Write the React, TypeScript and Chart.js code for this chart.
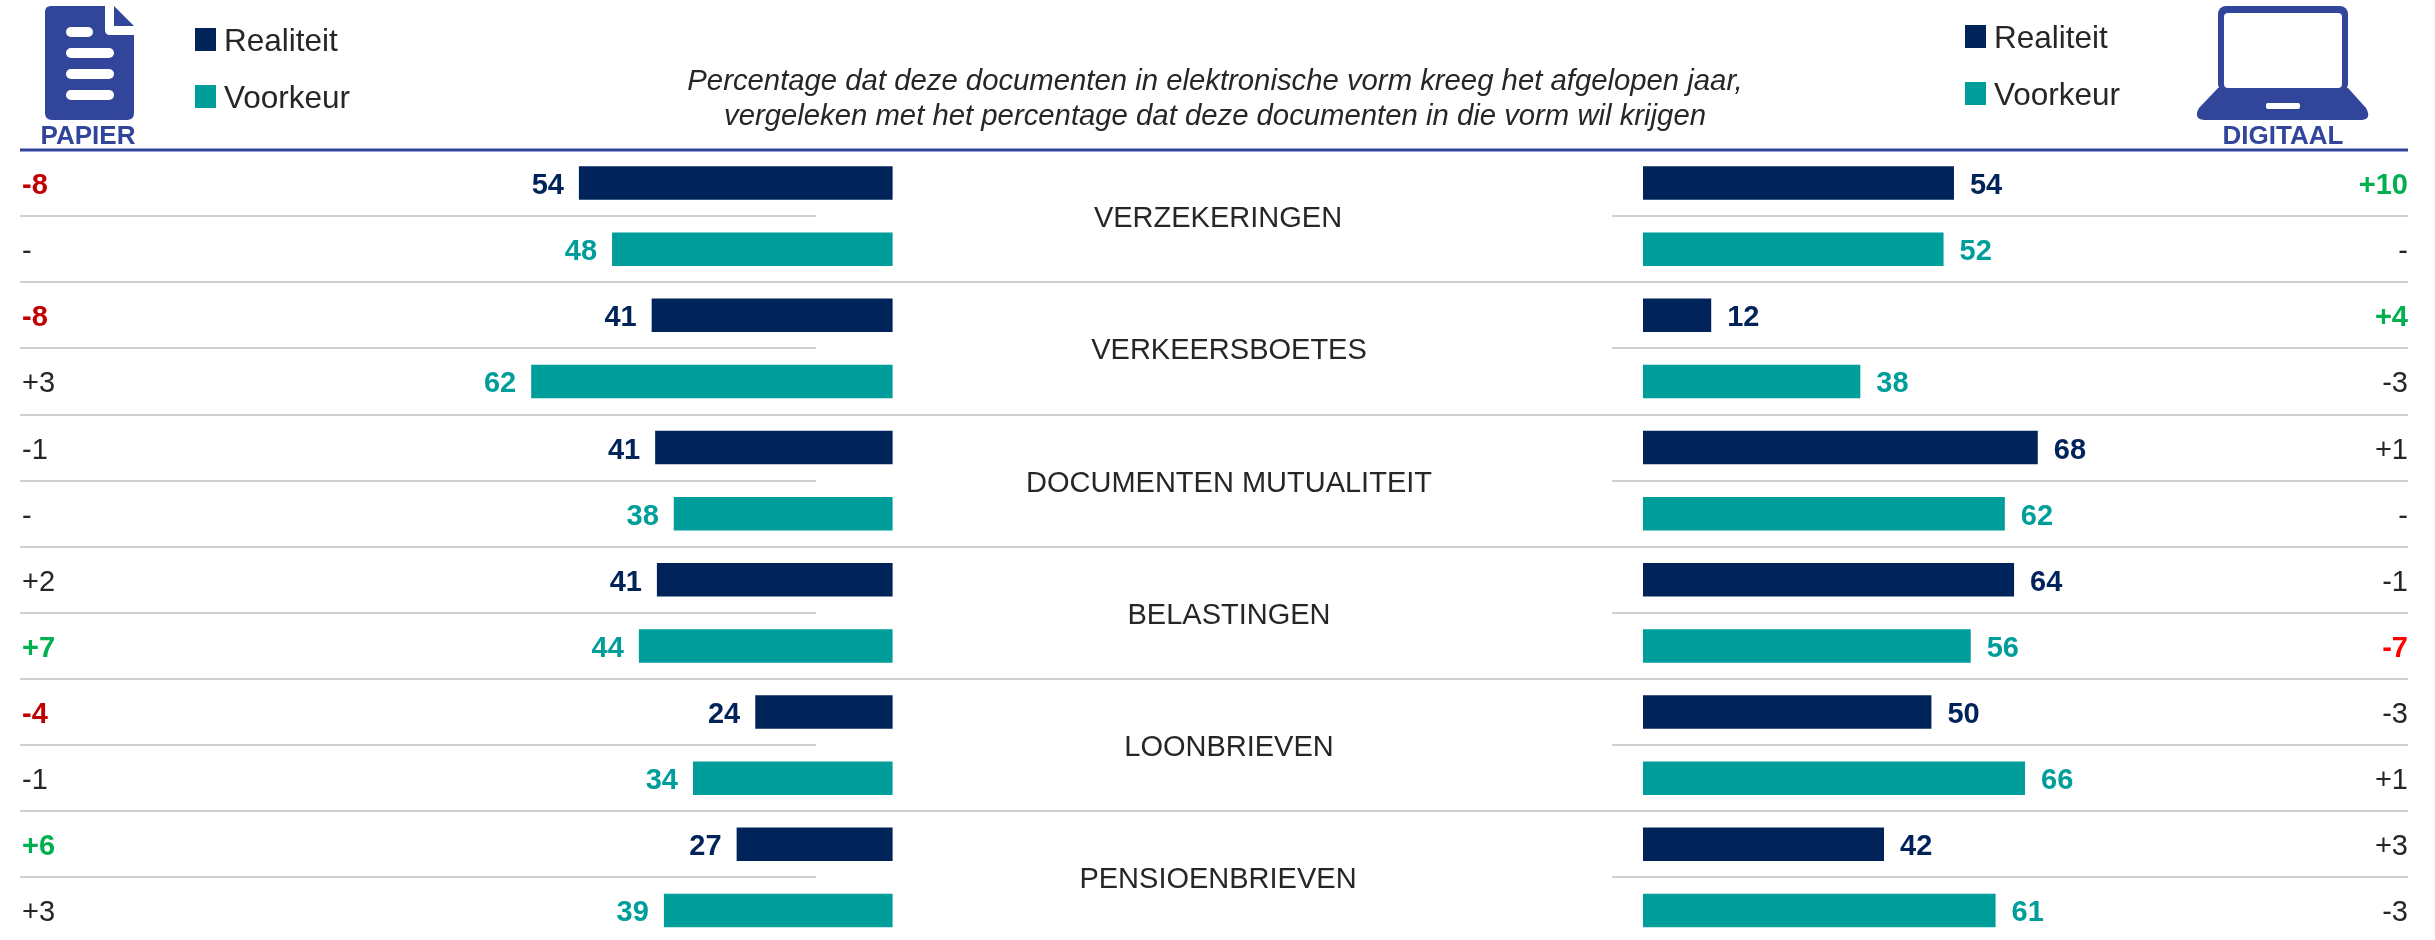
import React, { useEffect, useRef } from "react";
import { Chart, registerables } from "chart.js";

Chart.register(...registerables);

const categories = ["VERZEKERINGEN", "VERKEERSBOETES", "DOCUMENTEN MUTUALITEIT", "BELASTINGEN", "LOONBRIEVEN", "PENSIOENBRIEVEN"];
const seriesNames = ["Realiteit", "Voorkeur"];
const titleLines = [
  "Percentage dat deze documenten in elektronische vorm kreeg het afgelopen jaar,",
  "vergeleken met het percentage dat deze documenten in die vorm wil krijgen",
];

// bar lengths
const papierRealiteit = [53.9, 41.4, 40.8, 40.5, 23.6, 26.8];
const papierVoorkeur = [48.2, 62.1, 37.6, 43.6, 34.3, 39.3];
const digitaalRealiteit = [53.8, 11.8, 68.3, 64.2, 49.9, 41.7];
const digitaalVoorkeur = [52.0, 37.6, 62.6, 56.7, 66.1, 61.0];

// printed values
const papierRealiteitLabels = ["54", "41", "41", "41", "24", "27"];
const papierVoorkeurLabels = ["48", "62", "38", "44", "34", "39"];
const digitaalRealiteitLabels = ["54", "12", "68", "64", "50", "42"];
const digitaalVoorkeurLabels = ["52", "38", "62", "56", "66", "61"];

// printed differences, one per row
const papierDelta = ["-8", "-", "-8", "+3", "-1", "-", "+2", "+7", "-4", "-1", "+6", "+3"];
const digitaalDelta = ["+10", "-", "+4", "-3", "+1", "-", "-1", "-7", "-3", "+1", "+3", "-3"];
// n = neutral, u = green up, d = dark red down, r = bright red down
const papierDeltaTone = ["d", "n", "d", "n", "n", "n", "n", "u", "d", "n", "u", "n"];
const digitaalDeltaTone = ["u", "n", "u", "n", "n", "n", "n", "r", "n", "n", "n", "n"];

const NAVY = "#00235a";
const TEAL = "#009e9b";
const BLUE = "#31459b";
const INK = "#262626";
const FONT = '"Liberation Sans", Arial, sans-serif';
const TONE: Record<string, string> = { n: INK, u: "#00b050", d: "#c00000", r: "#ff0000" };

const onlyFirst = (a: number[]) => a.flatMap((v) => [v, null]);
const onlySecond = (a: number[]) => a.flatMap((v) => [null, v]);
const rowLabels = categories.flatMap((c) => seriesNames.map((s) => `${c} ${s}`));

function text(ctx: CanvasRenderingContext2D, s: string, x: number, y: number, font: string, color: string, align: CanvasTextAlign = "left") {
  ctx.font = font;
  ctx.fillStyle = color;
  ctx.textAlign = align;
  ctx.textBaseline = "alphabetic";
  ctx.fillText(s, x, y);
}

function rr(ctx: CanvasRenderingContext2D, x: number, y: number, w: number, h: number, r: number, color: string) {
  ctx.fillStyle = color;
  ctx.beginPath();
  ctx.roundRect(x, y, w, h, r);
  ctx.fill();
}

function drawDocIcon(ctx: CanvasRenderingContext2D) {
  ctx.fillStyle = BLUE;
  ctx.beginPath();
  ctx.moveTo(51, 6);
  ctx.lineTo(105, 6);
  ctx.lineTo(105, 30);
  ctx.quadraticCurveTo(105, 35, 110, 35);
  ctx.lineTo(134, 35);
  ctx.lineTo(134, 113);
  ctx.quadraticCurveTo(134, 120, 127, 120);
  ctx.lineTo(52, 120);
  ctx.quadraticCurveTo(45, 120, 45, 113);
  ctx.lineTo(45, 12);
  ctx.quadraticCurveTo(45, 6, 51, 6);
  ctx.fill();
  ctx.beginPath();
  ctx.moveTo(114, 6);
  ctx.lineTo(134, 26);
  ctx.lineTo(114, 26);
  ctx.closePath();
  ctx.fill();
  rr(ctx, 66, 27, 27, 10, 5, "#ffffff");
  rr(ctx, 66, 48, 48, 10, 5, "#ffffff");
  rr(ctx, 66, 69, 48, 10, 5, "#ffffff");
  rr(ctx, 66, 90, 48, 10, 5, "#ffffff");
}

function drawLaptopIcon(ctx: CanvasRenderingContext2D) {
  rr(ctx, 2218, 6, 130, 86, 8, BLUE);
  rr(ctx, 2224, 13, 118, 75, 4, "#ffffff");
  ctx.fillStyle = BLUE;
  ctx.beginPath();
  ctx.moveTo(2218, 88);
  ctx.lineTo(2348, 88);
  ctx.lineTo(2366, 108);
  ctx.quadraticCurveTo(2372, 119, 2362, 120);
  ctx.lineTo(2204, 120);
  ctx.quadraticCurveTo(2193, 119, 2199, 108);
  ctx.closePath();
  ctx.fill();
  rr(ctx, 2266, 103, 34, 6, 2, "#ffffff");
}

const dividers = {
  id: "dividers",
  beforeDatasetsDraw(chart: any) {
    const { ctx } = chart;
    const yScale = chart.scales.y;
    ctx.save();
    ctx.fillStyle = "#d0d0d0";
    for (let i = 1; i < rowLabels.length; i++) {
      const y = Math.round((yScale.getPixelForValue(i - 1) + yScale.getPixelForValue(i)) / 2);
      if (i % 2 === 0) {
        ctx.fillRect(20, y - 1, 2388, 2);
      } else {
        ctx.fillRect(20, y - 1, 796, 2);
        ctx.fillRect(1612, y - 1, 796, 2);
      }
    }
    ctx.fillStyle = BLUE;
    ctx.fillRect(20, 148.5, 2388, 3);
    ctx.restore();
  },
};

const annotations = {
  id: "annotations",
  afterDatasetsDraw(chart: any) {
    const { ctx } = chart;
    const yScale = chart.scales.y;
    ctx.save();
    drawDocIcon(ctx);
    drawLaptopIcon(ctx);
    text(ctx, "PAPIER", 88, 144, `bold 26px ${FONT}`, BLUE, "center");
    text(ctx, "DIGITAAL", 2283, 144, `bold 26px ${FONT}`, BLUE, "center");

    // legends
    const legendFont = `31.5px ${FONT}`;
    [[195, 224, 28], [1965, 1994, 25]].forEach(([sx, tx, top]) => {
      seriesNames.forEach((name, i) => {
        const y = top + i * 57;
        ctx.fillStyle = i === 0 ? NAVY : TEAL;
        ctx.fillRect(sx, y, 21, 23);
        text(ctx, name, tx, y + 23, legendFont, INK);
      });
    });

    // title
    titleLines.forEach((line, i) => {
      text(ctx, line, 1215, 90 + i * 35, `italic 29.3px ${FONT}`, INK, "center");
    });

    // category names, centred on the row boundary of their group
    categories.forEach((c, i) => {
      const y = (yScale.getPixelForValue(i * 2) + yScale.getPixelForValue(i * 2 + 1)) / 2;
      const x = i === 0 || i === 5 ? 1218 : 1229;
      text(ctx, c, x, y + 11, `29px ${FONT}`, INK, "center");
    });

    // value labels
    const valueFont = `bold 29px ${FONT}`;
    const valueLabels = [papierRealiteitLabels, papierVoorkeurLabels, digitaalRealiteitLabels, digitaalVoorkeurLabels];
    chart.data.datasets.forEach((_: any, d: number) => {
      const meta = chart.getDatasetMeta(d);
      const left = d < 2;
      const color = d % 2 === 0 ? NAVY : TEAL;
      valueLabels[d].forEach((label, i) => {
        const bar = meta.data[i * 2 + (d % 2)];
        text(ctx, label, bar.x + (left ? -15 : 16), bar.y + 11, valueFont, color, left ? "right" : "left");
      });
    });

    // differences
    papierDelta.forEach((s, i) => {
      const tone = papierDeltaTone[i];
      const y = yScale.getPixelForValue(i) + 11;
      text(ctx, s, 22, y, `${tone === "n" ? "" : "bold "}29px ${FONT}`, TONE[tone]);
    });
    digitaalDelta.forEach((s, i) => {
      const tone = digitaalDeltaTone[i];
      const y = yScale.getPixelForValue(i) + 11;
      text(ctx, s, 2408, y, `${tone === "n" ? "" : "bold "}29px ${FONT}`, TONE[tone], "right");
    });
    ctx.restore();
  },
};

const W = 2435;
const H = 940;
const CANVAS_H = 944;
const ZERO_PAPIER = 892.6;
const UNIT_PAPIER = 5.82;
const ZERO_DIGITAAL = 1643;
const UNIT_DIGITAAL = 5.78;

export default function App() {
  const ref = useRef<HTMLCanvasElement>(null);
  useEffect(() => {
    if (!ref.current) return;
    const barOpts = { grouped: false, barPercentage: 0.505, categoryPercentage: 1, borderWidth: 0 };
    const chart = new Chart(ref.current, {
      type: "bar",
      data: {
        labels: rowLabels,
        datasets: [
          { label: "Papier Realiteit", data: onlyFirst(papierRealiteit), backgroundColor: NAVY, xAxisID: "xPapier", ...barOpts },
          { label: "Papier Voorkeur", data: onlySecond(papierVoorkeur), backgroundColor: TEAL, xAxisID: "xPapier", ...barOpts },
          { label: "Digitaal Realiteit", data: onlyFirst(digitaalRealiteit), backgroundColor: NAVY, xAxisID: "xDigitaal", ...barOpts },
          { label: "Digitaal Voorkeur", data: onlySecond(digitaalVoorkeur), backgroundColor: TEAL, xAxisID: "xDigitaal", ...barOpts },
        ] as any,
      },
      options: {
        indexAxis: "y",
        responsive: false,
        animation: false,
        layout: { padding: { top: 150, bottom: 0.5, left: 0, right: 0 } },
        plugins: { legend: { display: false }, tooltip: { enabled: false }, title: { display: false } },
        scales: {
          y: { type: "category", display: false },
          xPapier: {
            type: "linear",
            axis: "x",
            display: false,
            reverse: true,
            min: (ZERO_PAPIER - W) / UNIT_PAPIER,
            max: ZERO_PAPIER / UNIT_PAPIER,
          },
          xDigitaal: {
            type: "linear",
            axis: "x",
            display: false,
            min: -ZERO_DIGITAAL / UNIT_DIGITAAL,
            max: (W - ZERO_DIGITAAL) / UNIT_DIGITAAL,
          },
        } as any,
      },
      plugins: [dividers, annotations],
    });
    return () => chart.destroy();
  }, []);
  return (
    <div style={{ position: "absolute", left: 0, top: 0, width: W, height: H, overflow: "hidden", background: "#ffffff" }}>
      <canvas ref={ref} width={W} height={CANVAS_H} style={{ display: "block", width: W, height: CANVAS_H }} />
    </div>
  );
}
